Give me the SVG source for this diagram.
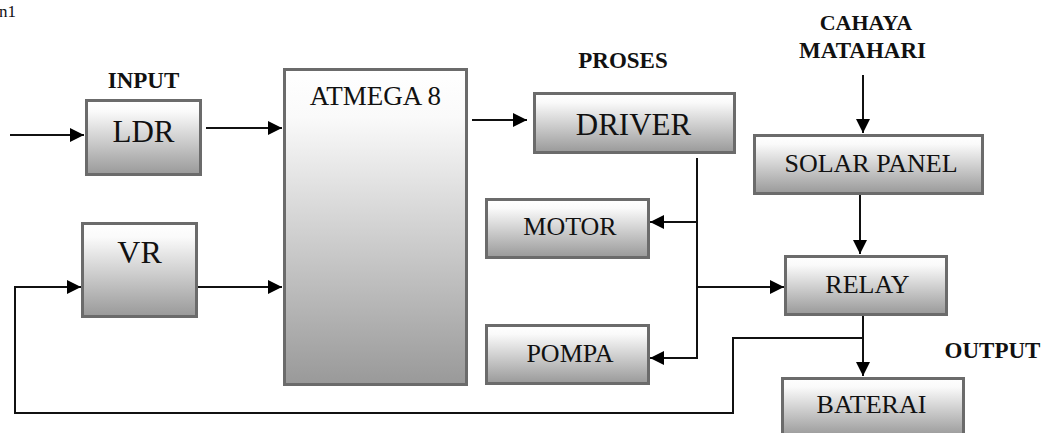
<svg xmlns="http://www.w3.org/2000/svg" width="1049" height="433" viewBox="0 0 1049 433">
<style>
.box{fill:url(#g);stroke:#6b6b6b;stroke-width:3}
text{font-family:'Liberation Serif','Times New Roman',serif;fill:#111}
.lbl{text-anchor:middle}
.b{font-weight:bold}
.c{fill:none;stroke:#111;stroke-width:2}
</style>
<defs>
<linearGradient id="g" x1="0" y1="0" x2="0" y2="1">
<stop offset="0" stop-color="#ffffff"/>
<stop offset="0.15" stop-color="#fafafa"/>
<stop offset="1" stop-color="#999999"/>
</linearGradient>
<marker id="ah" markerUnits="userSpaceOnUse" markerWidth="15" markerHeight="15" refX="14" refY="7" orient="auto">
<path d="M0,0 L14,7 L0,14 z" fill="#000"/>
</marker>
</defs>
<text x="-1" y="17" font-size="17">n1</text>
<text class="lbl b" x="143.5" y="88" font-size="23">INPUT</text>
<text class="lbl b" x="623" y="68" font-size="23">PROSES</text>
<text class="lbl b" x="866" y="30" font-size="22">CAHAYA</text>
<text class="lbl b" x="862.5" y="58" font-size="23">MATAHARI</text>
<text class="lbl b" x="992.5" y="358" font-size="23">OUTPUT</text>
<g id="ldr"><rect class="box" x="86.5" y="100.5" width="114" height="74"/><text class="lbl" x="143.5" y="142" font-size="31">LDR</text></g>
<g id="vr"><rect class="box" x="82.5" y="223.5" width="114" height="93"/><text class="lbl" x="139.5" y="263" font-size="32">VR</text></g>
<g id="atmega"><rect class="box" x="284.5" y="69.5" width="182" height="315"/><text class="lbl" x="375.5" y="105" font-size="27">ATMEGA 8</text></g>
<g id="driver"><rect class="box" x="534.5" y="93.5" width="200" height="59"/><text class="lbl" x="633.5" y="135" font-size="31">DRIVER</text></g>
<g id="motor"><rect class="box" x="486.5" y="199.5" width="162" height="58"/><text class="lbl" x="570" y="235" font-size="26">MOTOR</text></g>
<g id="pompa"><rect class="box" x="486.5" y="325.5" width="162" height="58"/><text class="lbl" x="570" y="362" font-size="26">POMPA</text></g>
<g id="solar"><rect class="box" x="754.5" y="135.5" width="228" height="58"/><text class="lbl" x="871" y="172" font-size="26">SOLAR PANEL</text></g>
<g id="relay"><rect class="box" x="785.5" y="256.5" width="161" height="58"/><text class="lbl" x="867.5" y="293" font-size="26">RELAY</text></g>
<g id="baterai"><rect class="box" x="782.5" y="378.5" width="181" height="58"/><text class="lbl" x="871.5" y="413" font-size="26">BATERAI</text></g>
<g id="connectors">
<line class="c" x1="10" y1="135" x2="84" y2="135" marker-end="url(#ah)"/>
<line class="c" x1="206" y1="128" x2="282" y2="128" marker-end="url(#ah)"/>
<line class="c" x1="198" y1="287" x2="282" y2="287" marker-end="url(#ah)"/>
<line class="c" x1="472" y1="120" x2="527" y2="120" marker-end="url(#ah)"/>
<line class="c" x1="697" y1="158" x2="697" y2="359"/>
<line class="c" x1="698" y1="222" x2="650" y2="222" marker-end="url(#ah)"/>
<line class="c" x1="698" y1="358" x2="650" y2="358" marker-end="url(#ah)"/>
<line class="c" x1="696" y1="287" x2="784" y2="287" marker-end="url(#ah)"/>
<line class="c" x1="863" y1="75" x2="863" y2="133" marker-end="url(#ah)"/>
<line class="c" x1="860" y1="195" x2="860" y2="254" marker-end="url(#ah)"/>
<line class="c" x1="863" y1="316" x2="863" y2="376" marker-end="url(#ah)"/>
<polyline class="c" points="863,338 733,338 733,413 15,413 15,287 81,287" marker-end="url(#ah)"/>
</g>
</svg>
